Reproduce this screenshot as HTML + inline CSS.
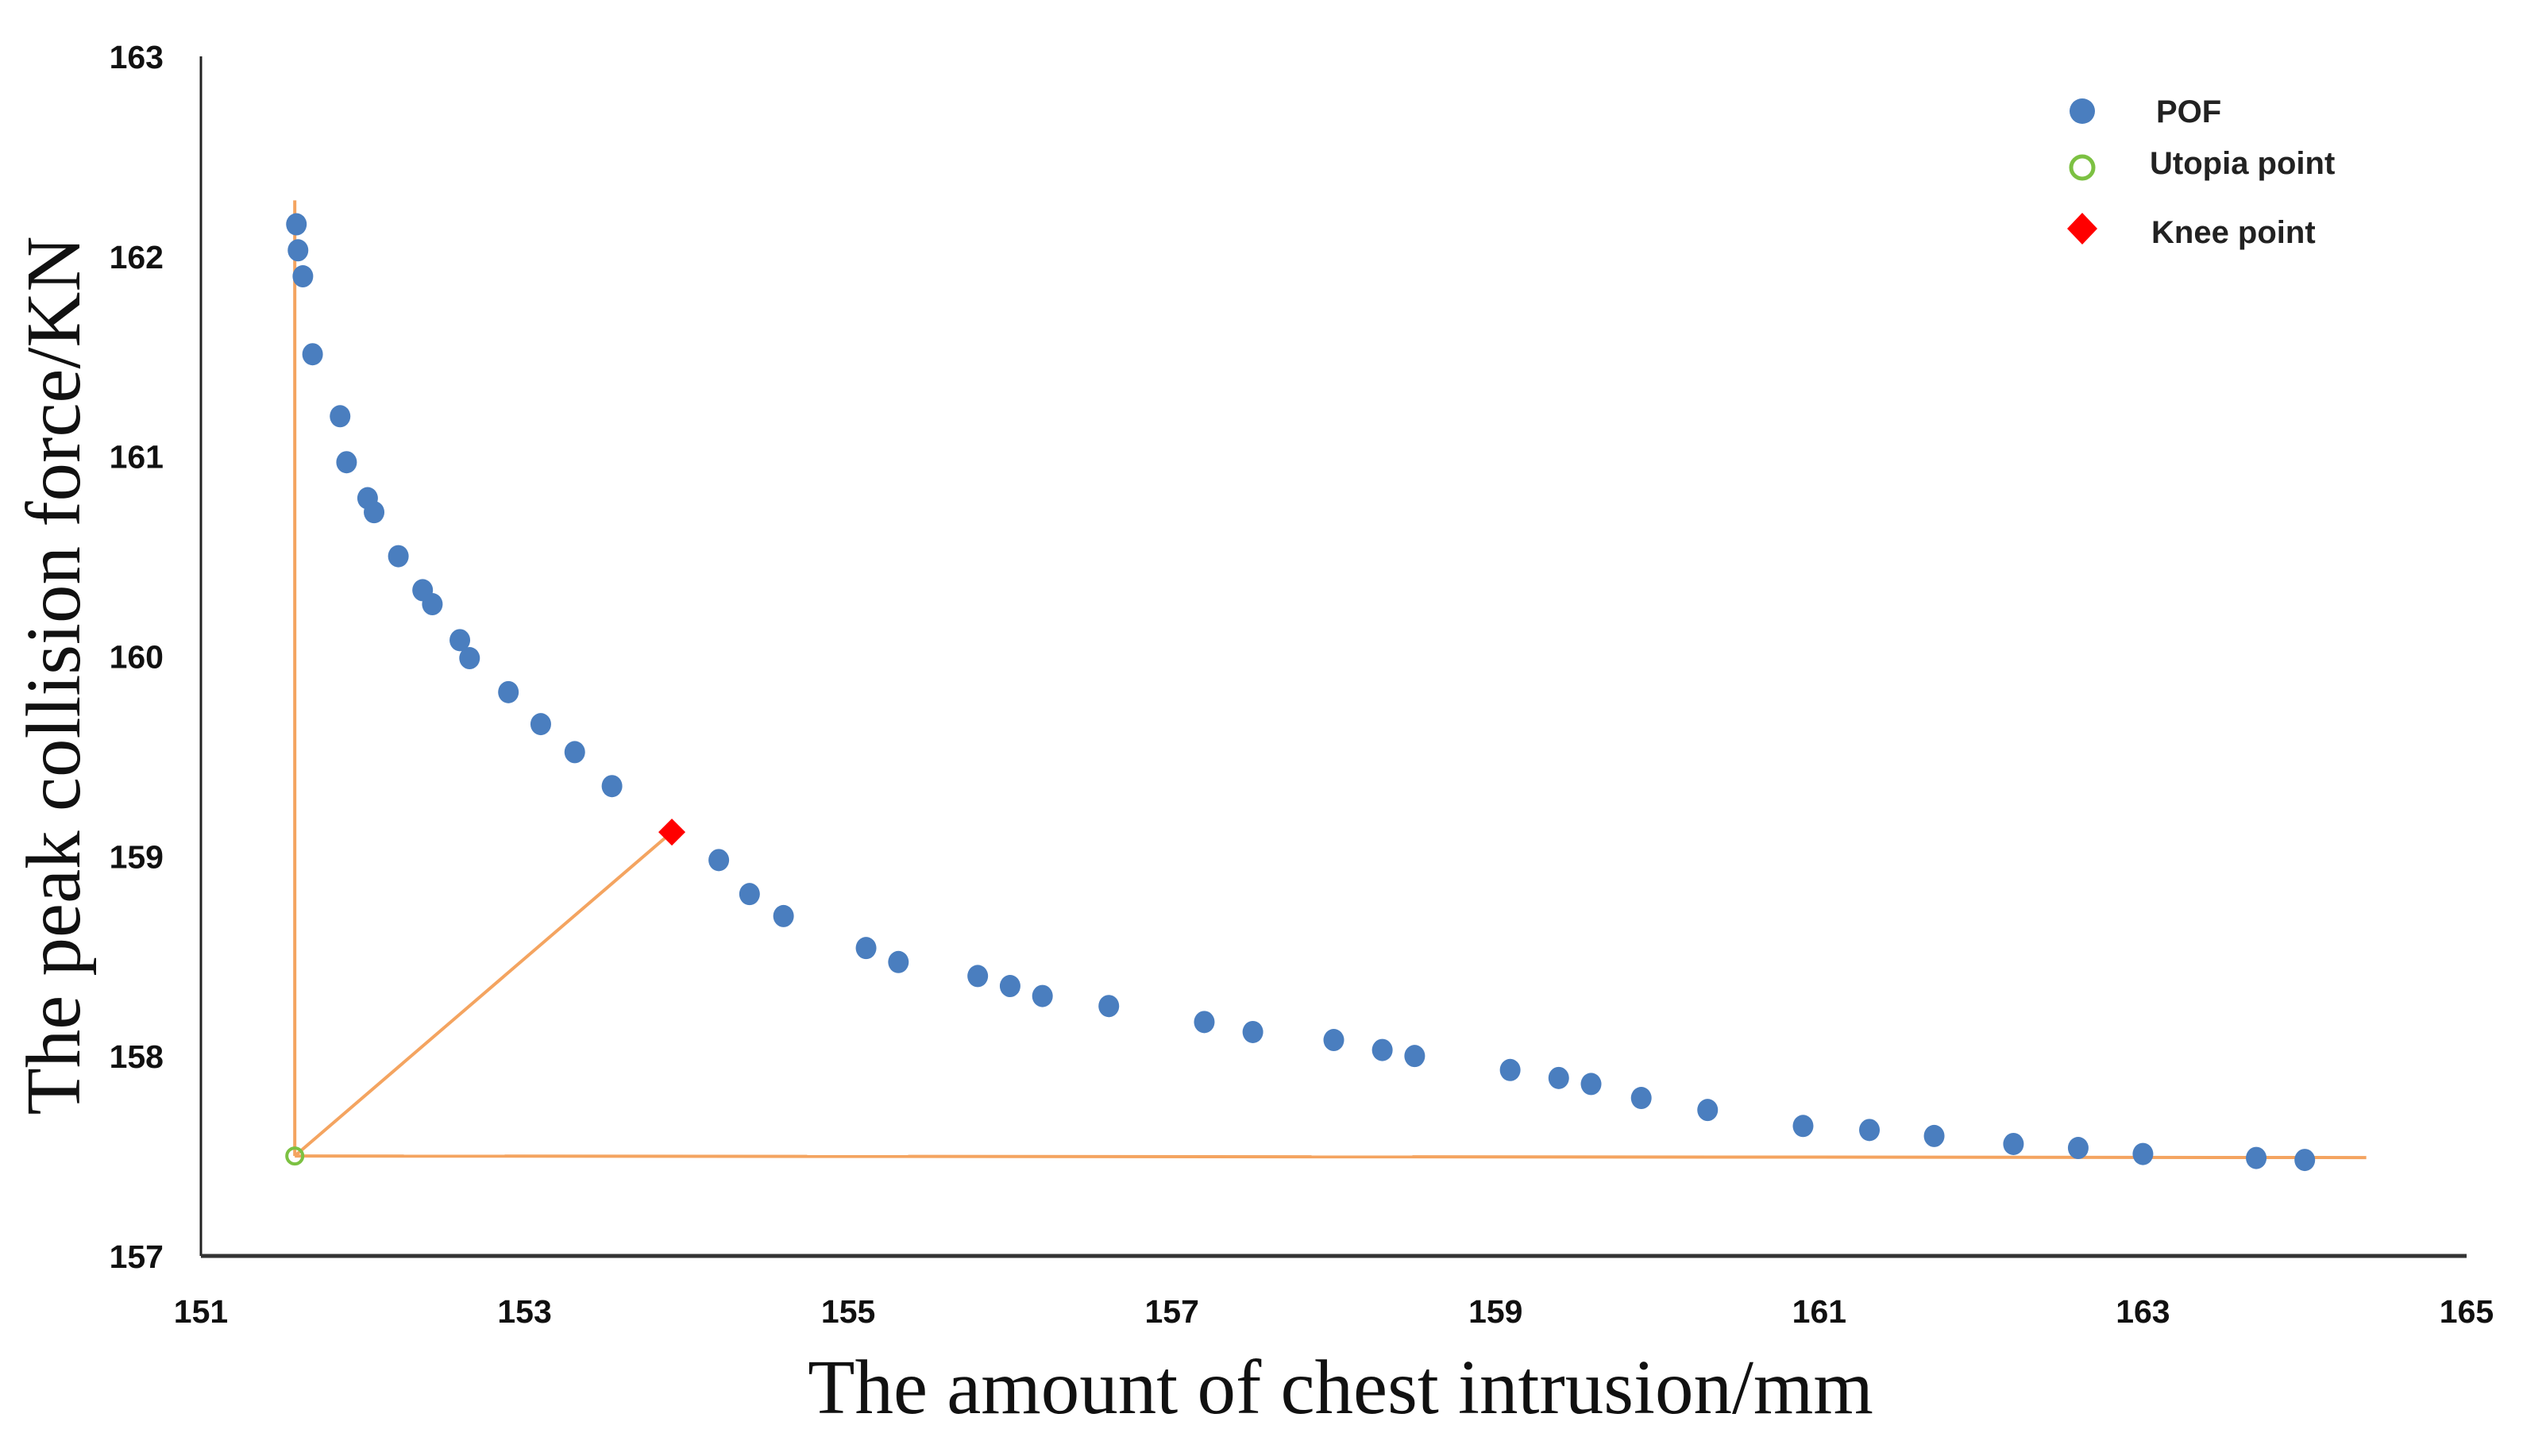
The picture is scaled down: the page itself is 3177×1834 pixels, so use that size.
<!DOCTYPE html>
<html><head><meta charset="utf-8"><style>
html,body{margin:0;padding:0;background:#fff;}
svg{display:block;}
.tick{font-family:"Liberation Sans",sans-serif;font-weight:bold;font-size:41px;fill:#111;}
.leg{font-family:"Liberation Sans",sans-serif;font-weight:bold;font-size:40px;fill:#222;}
.title{font-family:"Liberation Serif",serif;font-size:97px;fill:#111;}
</style></head><body>
<svg id="chart" width="3177" height="1834"></svg>
<script>
const xTicks=[151,153,155,157,159,161,163,165];
const yTicks=[157,158,159,160,161,162,163];
const pofX=[151.59,151.6,151.63,151.69,151.86,151.9,152.03,152.07,152.22,152.37,152.43,152.6,152.66,152.9,153.1,153.31,153.54,154.2,154.39,154.6,155.11,155.31,155.8,156.0,156.2,156.61,157.2,157.5,158.0,158.3,158.5,159.09,159.39,159.59,159.9,160.31,160.9,161.31,161.71,162.2,162.6,163.0,163.7,164.0];
const pofY=[162.16,162.03,161.9,161.51,161.2,160.97,160.79,160.72,160.5,160.33,160.26,160.08,159.99,159.82,159.66,159.52,159.35,158.98,158.81,158.7,158.54,158.47,158.4,158.35,158.3,158.25,158.17,158.12,158.08,158.03,158.0,157.93,157.89,157.86,157.79,157.73,157.65,157.63,157.6,157.56,157.54,157.51,157.49,157.48];
const utopia=[151.58,157.5];
const knee=[153.91,159.12];
const guideTop=[162.28];
const guideRight=[164.38];

const NS="http://www.w3.org/2000/svg";
const svg=document.getElementById('chart');
const X0=253,X1=3106,Y0=1582,Y1=71;
const xs=v=>X0+(v-151)/(165-151)*(X1-X0);
const ys=v=>Y0-(v-157)/(163-157)*(Y0-Y1);
function mk(tag,attrs,text){const e=document.createElementNS(NS,tag);for(const k in attrs)e.setAttribute(k,attrs[k]);if(text!==undefined)e.textContent=text;svg.appendChild(e);return e;}

let e;
e=mk('line',{x1:X0,y1:Y1,x2:X0,y2:Y0,stroke:'#222','stroke-width':3});


e=mk('line',{x1:X0,y1:Y0,x2:X1,y2:Y0,stroke:'#333','stroke-width':5});



xTicks.forEach(t=>{
 e=mk('text',{x:xs(t),y:1666,'text-anchor':'middle',class:'tick'},String(t));
 
 
});
yTicks.forEach(t=>{
 e=mk('text',{x:206,y:ys(t)+15,'text-anchor':'end',class:'tick'},String(t));
 
 
});

const org='#f4a460';
e=mk('line',{x1:xs(utopia[0]),y1:ys(utopia[1]),x2:xs(utopia[0]),y2:ys(guideTop[0]),stroke:org,'stroke-width':4});


e=mk('line',{x1:xs(utopia[0]),y1:ys(utopia[1]),x2:xs(guideRight[0]),y2:ys(utopia[1])+2,stroke:org,'stroke-width':4});


e=mk('line',{x1:xs(utopia[0]),y1:ys(utopia[1]),x2:xs(knee[0]),y2:ys(knee[1]),stroke:org,'stroke-width':4});



pofX.forEach((v,i)=>{
 e=mk('ellipse',{cx:xs(v),cy:ys(pofY[i]),rx:13,ry:14,fill:'#4a7ebf'});
 
 
});
e=mk('circle',{cx:xs(utopia[0]),cy:ys(utopia[1]),r:10,fill:'none',stroke:'#7cc142','stroke-width':4});


const kx=xs(knee[0]),ky=ys(knee[1]);
e=mk('polygon',{points:`${kx},${ky-17} ${kx+17},${ky} ${kx},${ky+17} ${kx-17},${ky}`,fill:'#ff0000'});



e=mk('circle',{cx:2622,cy:140,r:16,fill:'#4a7ebf'});


e=mk('text',{x:2715,y:154,class:'leg','font-weight':'normal'},'POF');


e=mk('circle',{cx:2622,cy:211,r:14,fill:'none',stroke:'#7cc142','stroke-width':5});


e=mk('text',{x:2707,y:219,class:'leg'},'Utopia point');


e=mk('polygon',{points:'2622,268 2641,288 2622,308 2603,288',fill:'#ff0000'});


e=mk('text',{x:2709,y:306,class:'leg'},'Knee point');



e=mk('text',{x:1688,y:1780,'text-anchor':'middle',class:'title'},'The amount of chest intrusion/mm');


e=mk('text',{x:0,y:0,'text-anchor':'middle',class:'title',transform:'translate(100,851) rotate(-90)'},'The peak collision force/KN');


</script>
</body></html>
